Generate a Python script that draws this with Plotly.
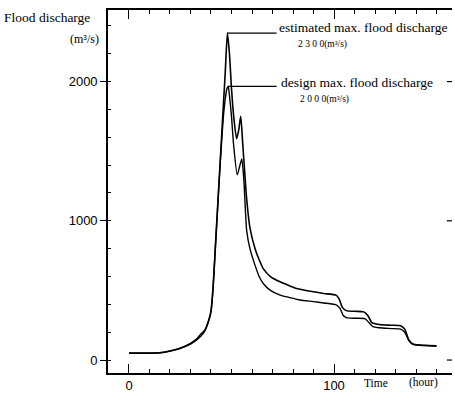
import plotly.graph_objects as go

# Time (hour) and discharge (m3/s)
t_est = [0, 10, 15, 20, 25, 30, 33, 35, 37, 39, 40, 41, 42, 43, 44, 45, 46, 47, 48,
         49, 50, 51, 52.5, 53.5, 54.5, 55.5, 57.4, 59, 61.5, 63.5, 65.5, 69, 73.7, 78,
         81.8, 90, 95, 101, 102.5, 104, 106, 110, 114.5, 116.5, 118.5, 122, 128, 132.5,
         134.5, 136.5, 138.5, 142, 146, 150]
q_est = [50, 50, 52, 65, 85, 120, 150, 185, 215, 290, 350, 520, 780, 1040, 1300, 1560,
         1820, 2080, 2348, 2200, 1950, 1760, 1590, 1650, 1750, 1550, 1157, 950, 800, 720,
         657, 600, 562, 535, 514, 490, 478, 466, 440, 380, 355, 350, 346, 320, 268, 255,
         250, 246, 222, 145, 115, 108, 105, 102]

t_des = [0, 10, 15, 20, 25, 30, 33, 35, 37, 39, 40, 41, 42, 43, 44, 45, 46, 47, 47.8,
         48.4, 49, 50, 51, 52.8, 53.8, 55, 56, 57.4, 59, 61.5, 63.5, 65.5, 69, 73.7, 78,
         83.4, 90, 95, 101.3, 103, 104.5, 106, 110, 115, 117, 119, 122, 128, 132.5, 134.5,
         136.5, 138.5, 142, 146, 150]
q_des = [50, 50, 52, 65, 85, 115, 145, 170, 210, 290, 350, 510, 770, 1030, 1290, 1530,
         1740, 1880, 1950, 1966, 1900, 1750, 1550, 1330, 1380, 1445, 1300, 930, 800, 680,
         600, 550, 500, 466, 450, 431, 420, 410, 395, 370, 320, 305, 300, 297, 270, 240,
         232, 226, 222, 200, 140, 112, 106, 103, 100]

y_ticks = [0, 1000, 2000]
x_ticks = [0, 100]

SERIF = "Liberation Serif"
SANS = "Liberation Sans"

fig = go.Figure()
fig.add_trace(go.Scatter(x=t_est, y=q_est, mode="lines",
                         line=dict(color="black", width=1.6, shape="spline", smoothing=0.6)))
fig.add_trace(go.Scatter(x=t_des, y=q_des, mode="lines",
                         line=dict(color="black", width=1.4, shape="spline", smoothing=0.6)))

W, H = 455, 396
L, R, T, B = 108, 3, 10, 21
pw, ph = W - L - R, H - T - B


def px(x):
    return (x - L) / pw


def py(y):
    return (H - B - y) / ph


# leader lines from peaks
pk_e = max(q_est)
pk_d = max(q_des)
te = t_est[q_est.index(pk_e)]
td = t_des[q_des.index(pk_d)]
fig.add_shape(type="line", x0=te, x1=72, y0=pk_e, y1=pk_e,
              line=dict(color="black", width=1.3))
fig.add_shape(type="line", x0=td, x1=72, y0=pk_d, y1=pk_d,
              line=dict(color="black", width=1.3))

# small right-side tick marks
for v in y_ticks:
    fig.add_shape(type="line", xref="paper", x0=0.985, x1=1.0, y0=v, y1=v,
                  line=dict(color="black", width=1.2))

ann = [
    ("Flood discharge", 2, 18, "left", 13.5),
    ("(m³/s)", 101, 39, "right", 12),
    ("estimated max. flood discharge", 277, 28, "left", 13.5),
    ("2 3 0 0(m³/s)", 296, 45, "left", 9.5),
    ("design max. flood discharge", 279, 83, "left", 13.5),
    ("2 0 0 0(m³/s)", 298, 100, "left", 9.5),
    ("Time", 362, 385, "left", 11.5),
    ("(hour)", 407, 385, "left", 11.5),
]
for txt, x, y, anc, sz in ann:
    fig.add_annotation(text=txt, x=px(x), y=py(y), xref="paper", yref="paper",
                       xanchor=anc, yanchor="middle", showarrow=False,
                       font=dict(family=SERIF, size=sz, color="black"))

fig.update_layout(
    width=W, height=H, margin=dict(l=L, r=R, t=T, b=B),
    paper_bgcolor="white", plot_bgcolor="white", showlegend=False,
    xaxis=dict(range=[-10.24, 157.56], tickvals=x_ticks, ticks="inside", ticklen=9,
               tickcolor="black", tickwidth=1.2, showgrid=False, zeroline=False,
               showline=True, linecolor="black", linewidth=1.6, mirror="allticks",
               tickfont=dict(family=SANS, size=13, color="black"),
               minor=dict(dtick=10, tick0=0, ticks="inside", ticklen=4,
                          tickcolor="black", tickwidth=1)),
    yaxis=dict(range=[-93, 2514], tickvals=y_ticks, ticks="outside", ticklen=6,
               tickcolor="black", tickwidth=1.2, showgrid=False, zeroline=False,
               showline=True, linecolor="black", linewidth=1.6,
               tickfont=dict(family=SANS, size=13, color="black"),
               minor=dict(dtick=200, tick0=0, ticks="inside", ticklen=3,
                          tickcolor="black", tickwidth=1)),
)

fig.write_html("out.html", config={"displayModeBar": False},
               post_script="document.body.style.margin='0';")
